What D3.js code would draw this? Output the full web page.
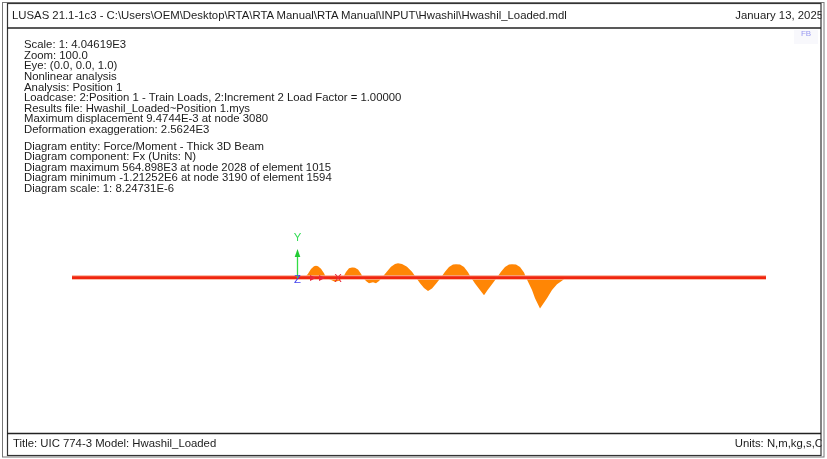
<!DOCTYPE html>
<html lang="en">
  <head>
    <meta charset="UTF-8"/>
    <title>Hwashil_Loaded Fx diagram</title>
    <script src="https://d3js.org/d3.v7.min.js"></script>
    <style>
        html, body {
          margin: 0;
          background: #fff;
        }
        svg {
          display: block;
          filter: blur(0.35px);
        }
        text {
          font-family: "Liberation Sans", Arial, sans-serif;
          font-size: 11.35px;
          fill: #1c1c1c;
        }
    </style>
  </head>
  <body>
    <script>
        // Text panels
        const headerLeft = "LUSAS 21.1-1c3 - C:\\Users\\OEM\\Desktop\\RTA\\RTA Manual\\RTA Manual\\INPUT\\Hwashil\\Hwashil_Loaded.mdl"
        const headerRight = "January 13, 2025"
        const footerLeft = "Title: UIC 774-3 Model: Hwashil_Loaded"
        const footerRight = "Units: N,m,kg,s,C"
        const infoLines = [
          "Scale: 1: 4.04619E3",
          "Zoom: 100.0",
          "Eye: (0.0, 0.0, 1.0)",
          "Nonlinear analysis",
          "Analysis: Position 1",
          "Loadcase: 2:Position 1 - Train Loads, 2:Increment 2 Load Factor = 1.00000",
          "Results file: Hwashil_Loaded~Position 1.mys",
          "Maximum displacement 9.4744E-3 at node 3080",
          "Deformation exaggeration: 2.5624E3"
        ]
        const diagramLines = [
          "Diagram entity: Force/Moment - Thick 3D Beam",
          "Diagram component: Fx (Units: N)",
          "Diagram maximum 564.898E3 at node 2028 of element 1015",
          "Diagram minimum -1.21252E6 at node 3190 of element 1594",
          "Diagram scale: 1: 8.24731E-6"
        ]

        // Fx: station along the beam (m), force (kN)
        const beamEnds = [0, 694]
        const stations = [0, 233, 236, 239, 242, 244, 246, 249, 252, 254, 258, 263, 268, 271, 274, 277, 280, 281, 283, 286, 289, 291, 294, 297, 301, 304, 307, 310, 315, 319, 323, 326, 330, 335, 340, 344, 348, 352, 356, 360, 364, 369, 373, 377, 381, 384, 388, 392, 396, 399, 403, 407, 412, 416, 420, 425, 429, 433, 437, 440, 444, 448, 452, 454, 460, 463, 468, 475, 480, 485, 490, 493, 501, 694]
        const fx = [0, 0, 150, 340, 450, 467, 450, 350, 170, 0, -70, -160, -110, 0, 220, 370, 400, 400, 390, 320, 150, 0, -130, -220, -185, -220, -130, 0, 240, 430, 530, 565, 530, 430, 230, 0, -220, -410, -530, -430, -240, 0, 230, 420, 510, 525, 510, 420, 210, 0, -230, -440, -695, -470, -260, 0, 230, 420, 510, 525, 510, 420, 200, 0, -490, -810, -1212, -810, -490, -260, -120, -30, 0, 0]

        // Support markers on the beam
        const rollerStations = [241, 250]
        const pinStation = 266

        const width = 827, height = 459
        const baselineY = 277.6, pxPerKN = 30.9 / 1212

        const xScale = d3.scaleLinear().domain(beamEnds).range([72, 766])
        const yScale = d3.scaleLinear().domain([-1212, 565]).range([baselineY + 1212 * pxPerKN, baselineY - 565 * pxPerKN])

        const svg = d3.select("body").append("svg")
            .attr("width", width)
            .attr("height", height)

        // Header and footer
        svg.append("text").attr("x", 12).attr("y", 19).text(headerLeft)
        svg.append("text").attr("x", 823).attr("y", 19).attr("text-anchor", "end").text(headerRight)
        svg.append("text").attr("x", 13).attr("y", 447).text(footerLeft)
        svg.append("text").attr("x", 823).attr("y", 447).attr("text-anchor", "end").text(footerRight)

        // Window frame, drawn over the header and footer so the right end is cut off
        svg.append("rect").attr("x", 821.5).attr("y", 3).attr("width", 6).attr("height", 456).attr("fill", "#fff")
        svg.append("rect").attr("x", 2.5).attr("y", 2.5).attr("width", 821.5).attr("height", 454.5)
            .attr("fill", "none").attr("stroke", "#777").attr("stroke-width", 1)
        svg.append("rect").attr("x", 7.5).attr("y", 3.5).attr("width", 813.5).attr("height", 452)
            .attr("fill", "none").attr("stroke", "#333").attr("stroke-width", 1.2)
        svg.append("line").attr("x1", 7).attr("x2", 821).attr("y1", 28).attr("y2", 28)
            .attr("stroke", "#222").attr("stroke-width", 1.6)
        svg.append("line").attr("x1", 7).attr("x2", 821).attr("y1", 433.5).attr("y2", 433.5)
            .attr("stroke", "#222").attr("stroke-width", 1.6)

        // Info block
        const infoY = d3.scaleLinear().domain([0, 1]).range([48.2, 58.8])
        svg.append("g").selectAll("text").data(infoLines).join("text")
            .attr("x", 24).attr("y", (d, i) => infoY(i)).text(d => d)
        const diagramY = d3.scaleLinear().domain([0, 1]).range([149.6, 160.2])
        svg.append("g").selectAll("text").data(diagramLines).join("text")
            .attr("x", 24).attr("y", (d, i) => diagramY(i)).text(d => d)

        // Faded logo mark, top right
        svg.append("rect").attr("x", 794).attr("y", 30).attr("width", 24).attr("height", 14).attr("fill", "#f8f8fc")
        svg.append("text").attr("x", 806).attr("y", 36).attr("text-anchor", "middle")
            .style("font-size", "8px").style("fill", "#9a9af0").text("FB")

        // Fx diagram
        const area = d3.area()
            .x((d, i) => xScale(stations[i]))
            .y0(yScale(0))
            .y1(d => yScale(d))
        svg.append("path").datum(fx).attr("d", area).attr("fill", "#ff8605")

        // Beam line
        svg.append("line").attr("x1", xScale(beamEnds[0])).attr("x2", xScale(beamEnds[1]))
            .attr("y1", baselineY).attr("y2", baselineY)
            .attr("stroke", "#f8a890").attr("stroke-width", 4.5)
        svg.append("line").attr("x1", xScale(beamEnds[0])).attr("x2", xScale(beamEnds[1]))
            .attr("y1", baselineY).attr("y2", baselineY)
            .attr("stroke", "#f0260f").attr("stroke-width", 2.8)

        // Axes triad
        const axisX = 297.5
        svg.append("line").attr("x1", axisX).attr("x2", axisX).attr("y1", 278).attr("y2", 254)
            .attr("stroke", "#33dd44").attr("stroke-width", 1.3)
        svg.append("path").attr("d", `M${axisX - 2.8},257 L${axisX},249 L${axisX + 2.8},257 Z`).attr("fill", "#22cc33")
        svg.append("text").attr("x", axisX).attr("y", 241).attr("text-anchor", "middle")
            .style("fill", "#33dd55").text("Y")
        svg.append("text").attr("x", axisX).attr("y", 282.5).attr("text-anchor", "middle")
            .style("fill", "#4444ee").text("Z")

        // Supports drawn on the beam
        svg.append("g").selectAll("path").data(rollerStations).join("path")
            .attr("d", d => `M${xScale(d) - 3},275 L${xScale(d) + 3},278 L${xScale(d) - 3},281 Z`)
            .attr("fill", "#e8283a")
        svg.append("text").attr("x", xScale(pinStation)).attr("y", 282).attr("text-anchor", "middle")
            .style("fill", "#e8283a").text("X")
    </script>
  </body>
</html>
